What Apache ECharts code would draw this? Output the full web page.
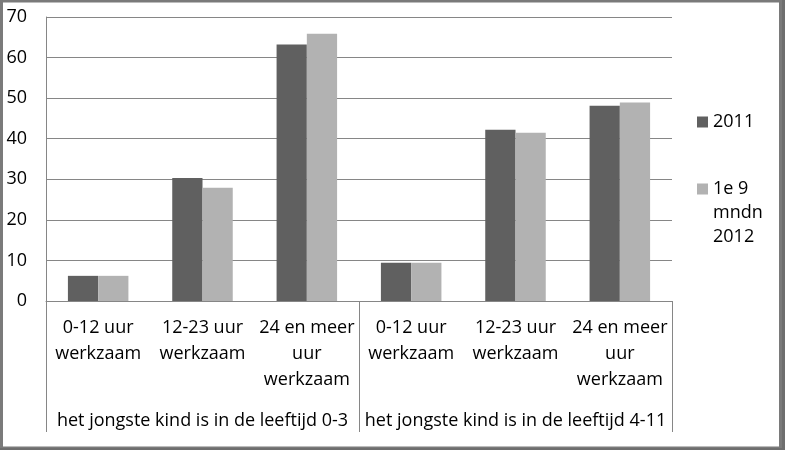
<!DOCTYPE html>
<html>
<head>
<meta charset="utf-8">
<script src="https://cdn.jsdelivr.net/npm/echarts@6/dist/echarts.min.js"></script>
<style>
html,body{margin:0;padding:0;background:#fff;}
#chart{width:785px;height:450px;}
</style>
</head>
<body>
<div id="chart"></div>
<script>
const categories = [
  '0-12 uur\nwerkzaam', '12-23 uur\nwerkzaam', '24 en meer\nuur\nwerkzaam',
  '0-12 uur\nwerkzaam', '12-23 uur\nwerkzaam', '24 en meer\nuur\nwerkzaam'
];
const groups = ['het jongste kind is in de leeftijd 0-3', 'het jongste kind is in de leeftijd 4-11'];
const seriesNames = ['2011', '1e 9 mndn 2012'];
const values2011 = [6.2, 30.3, 63.2, 9.4, 42.2, 48.1];
const values2012 = [6.2, 27.9, 65.9, 9.4, 41.5, 48.9];
const yMin = 0, yMax = 70, yStep = 10;

const FONT = 'Open Sans';
const FS = 18;
const chart = echarts.init(document.getElementById('chart'), null, {renderer: 'canvas'});
const gridColor = '#868686';

chart.setOption({
  animation: false,
  backgroundColor: '#fff',
  textStyle: {fontFamily: FONT},
  grid: {left: 46, right: 113, top: 17, bottom: 149, containLabel: false},
  legend: [
    {
      data: [seriesNames[0]], orient: 'vertical', left: 697, top: 110, padding: 0,
      icon: 'rect', itemWidth: 11, itemHeight: 11, itemGap: 5,
      textStyle: {fontFamily: FONT, fontSize: FS, color: '#000', lineHeight: 24}
    },
    {
      data: [seriesNames[1]], orient: 'vertical', left: 697, top: 177, padding: 0,
      icon: 'path://M0,0L11,0L11,11L0,11Z M0,59L11,59Z', itemWidth: 11, itemHeight: 59, itemGap: 5,
      formatter: function () { return '1e 9\nmndn\n2012'; },
      textStyle: {fontFamily: FONT, fontSize: FS, color: '#000', lineHeight: 24}
    }
  ],
  xAxis: [
    {
      type: 'category', data: categories, position: 'bottom',
      axisLine: {show: true, lineStyle: {color: gridColor, width: 1}},
      axisTick: {show: false},
      axisLabel: {interval: 0, margin: 14, fontSize: FS, lineHeight: 26, color: '#000', fontFamily: FONT}
    },
    {
      type: 'category', data: groups, position: 'bottom', offset: 0,
      axisLine: {show: false},
      axisTick: {show: true, length: 131, lineStyle: {color: gridColor, width: 1}, alignWithLabel: false},
      axisLabel: {interval: 0, margin: 108, fontSize: FS, lineHeight: 24, color: '#000', fontFamily: FONT}
    }
  ],
  yAxis: {
    type: 'value', min: yMin, max: yMax, interval: yStep,
    axisLine: {show: true, lineStyle: {color: gridColor}},
    axisTick: {show: false},
    axisLabel: {margin: 19, fontSize: FS, color: '#000', fontFamily: FONT},
    splitLine: {show: true, lineStyle: {color: gridColor, width: 1}}
  },
  series: [
    {name: seriesNames[0], type: 'bar', xAxisIndex: 0, data: values2011,
     itemStyle: {color: '#606060'}, barGap: '0%', barCategoryGap: '42%'},
    {name: seriesNames[1], type: 'bar', xAxisIndex: 0, data: values2012,
     itemStyle: {color: '#b2b2b2'}, barGap: '0%', barCategoryGap: '42%'}
  ],
  graphic: [
    {type: 'rect', silent: true, z: 100,
     shape: {x: 1.5, y: 1, width: 779, height: 447},
     style: {fill: 'none', stroke: '#7a7a7a', lineWidth: 3}},
    {type: 'rect', silent: true, z: 100,
     shape: {x: 782, y: 0, width: 3, height: 450},
     style: {fill: '#6e6e6e'}},
    {type: 'rect', silent: true, z: 100,
     shape: {x: 0, y: 448, width: 785, height: 2},
     style: {fill: '#6e6e6e'}}
  ]
});
</script>
</body>
</html>
